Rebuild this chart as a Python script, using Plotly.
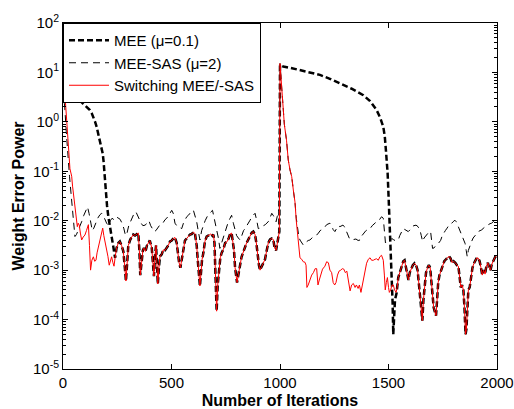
import plotly.graph_objects as go
import numpy as np

# ---------------- data (log10 of weight error power) ----------------
# MEE transient (0..240)
mee_pre_it = [0, 17, 40, 63, 85, 101, 115, 124, 132, 140, 148, 155, 163, 171, 178, 183, 187, 190, 194, 198, 203, 209, 217, 223, 227, 232]
mee_pre_lg = [0.60, 0.58, 0.53, 0.48, 0.40, 0.34, 0.28, 0.24, 0.18, 0.10, 0.0, -0.10, -0.24, -0.37, -0.52, -0.64, -0.80, -0.98, -1.20, -1.48, -1.70, -1.92, -2.12, -2.22, -2.35, -2.53]

# shared steady-state fluctuation, 240..997
steady_a_it = [240, 247, 255, 262, 270, 278, 285, 290, 295, 301, 310, 318, 324, 332, 340, 347, 352, 356, 362, 368,
               373, 380, 387, 393, 400, 409, 414, 419, 424, 429, 433, 437, 442, 447, 455, 462, 470, 478, 485, 493,
               501, 508, 516, 524, 530, 535, 541, 547, 554, 562, 570, 578, 585, 593, 601, 608, 616, 622, 627, 631,
               636, 641, 647, 654, 662, 668, 674, 681, 688, 693, 698, 703, 708, 713, 719, 725, 731, 739, 747, 757,
               764, 770, 777, 783, 788, 793, 797, 802, 808, 813, 818, 823, 831, 839, 846, 854, 862, 870, 877, 885,
               891, 897, 903, 908, 913, 920, 926, 931, 938, 946, 954, 962, 969, 975, 982, 988, 993, 997]
steady_a_lg = [-2.75, -2.55, -2.45, -2.42, -2.50, -2.62, -2.95, -3.22, -2.90, -2.50, -2.38, -2.32, -2.28, -2.30, -2.27, -2.25, -2.60, -3.10, -2.85, -2.60,
               -2.55, -2.62, -2.50, -2.46, -2.40, -2.55, -2.85, -3.12, -2.70, -2.50, -2.90, -3.28, -2.95, -2.72, -2.68, -2.59, -2.60, -2.55, -2.50, -2.42,
               -2.40, -2.36, -2.34, -2.45, -2.68, -2.85, -2.95, -2.80, -2.59, -2.40, -2.36, -2.32, -2.28, -2.27, -2.23, -2.26, -2.50, -2.85, -3.20, -3.32,
               -3.05, -2.78, -2.65, -2.42, -2.32, -2.30, -2.28, -2.27, -2.30, -2.28, -2.45, -3.10, -3.83, -3.30, -3.00, -2.75, -2.65, -2.58, -2.45, -2.42,
               -2.35, -2.27, -2.25, -2.40, -2.60, -2.95, -3.10, -3.25, -3.10, -2.92, -2.85, -2.73, -2.62, -2.50, -2.45, -2.38, -2.30, -2.24, -2.22, -2.28,
               -2.45, -2.75, -2.90, -3.00, -2.95, -2.90, -2.83, -2.78, -2.62, -2.45, -2.38, -2.36, -2.38, -2.55, -2.60, -2.45, -2.30, -2.22]

# MEE after the system change at 1000
mee_post_it = [1000, 1015, 1050, 1107, 1150, 1184, 1230, 1276, 1330, 1384, 1415, 1445, 1462, 1476, 1483, 1488, 1493, 1496, 1501, 1504, 1507, 1512, 1516, 1519, 1522, 1526, 1530, 1537]
mee_post_lg = [1.15, 1.12, 1.09, 1.03, 0.99, 0.95, 0.87, 0.78, 0.67, 0.54, 0.42, 0.24, 0.08, -0.10, -0.30, -0.57, -0.85, -1.04, -1.58, -1.90, -2.50, -3.00, -3.40, -3.67, -4.30, -3.90, -3.60, -3.47]

# shared steady-state fluctuation, 1545..2000
steady_b_it = [1545, 1552, 1561, 1568, 1574, 1580, 1586, 1592, 1598, 1605, 1612, 1620, 1627, 1634, 1640, 1646, 1651, 1656, 1661, 1667,
               1673, 1680, 1686, 1692, 1698, 1703, 1708, 1714, 1719, 1724, 1729, 1735, 1742, 1750, 1757, 1765, 1772, 1779, 1786, 1793,
               1800, 1808, 1815, 1822, 1828, 1833, 1839, 1845, 1850, 1855, 1859, 1863, 1868, 1874, 1880, 1887, 1894, 1900, 1907, 1914,
               1920, 1926, 1932, 1938, 1945, 1951, 1958, 1964, 1970, 1976, 1983, 1991, 2000]
steady_b_lg = [-3.15, -3.05, -2.93, -2.82, -2.80, -2.95, -3.12, -3.20, -3.05, -2.95, -2.90, -2.86, -2.90, -3.00, -3.25, -3.60, -3.85, -4.02, -3.60, -3.25,
               -3.05, -2.95, -2.90, -2.95, -3.20, -3.55, -3.75, -3.85, -3.92, -3.60, -3.25, -3.10, -3.00, -2.88, -2.82, -2.78, -2.74, -2.72, -2.76, -2.85,
               -2.82, -2.85, -2.90, -2.92, -3.15, -3.35, -3.30, -3.40, -3.75, -4.30, -4.20, -3.70, -3.40, -3.35, -3.15, -2.95, -2.86, -2.80, -2.75, -2.76,
               -2.82, -2.95, -3.10, -3.00, -3.08, -2.92, -2.85, -2.95, -3.00, -2.88, -2.80, -2.74, -2.70]

# Switching MEE/-SAS: own transient segments
sw_pre_it = [0, 5, 9, 13, 17, 21, 25, 29, 32, 36, 40, 44, 48, 52, 56, 60, 66, 70, 75, 80, 86, 93, 101, 108, 117, 122, 127, 133,
             140, 146, 152, 157, 163, 170, 177, 183, 188, 194, 201, 207, 213, 219, 224, 230, 235]
sw_pre_lg = [0.62, 0.60, 0.55, 0.25, -0.10, -0.30, -0.50, -0.75, -0.95, -1.05, -1.10, -1.30, -1.45, -1.60, -1.70, -1.85, -2.12, -2.05, -2.09, -2.25, -2.39, -2.33, -2.29, -2.20, -2.08, -2.50, -3.00, -2.80,
             -2.73, -2.82, -2.80, -2.65, -2.53, -2.40, -2.28, -2.15, -2.30, -2.42, -2.60, -2.72, -2.90, -2.78, -2.73, -2.85, -2.92]
sw_post_it = [1000, 1006, 1013, 1020, 1030, 1038, 1046, 1054, 1062, 1069, 1075, 1080, 1086, 1092, 1100, 1107, 1115, 1120, 1124, 1130,
              1138, 1146, 1154, 1162, 1169, 1175, 1181, 1188, 1196, 1207, 1215, 1223, 1230, 1238, 1245, 1252, 1258, 1265, 1272, 1280,
              1287, 1294, 1301, 1308, 1316, 1323, 1330, 1338, 1346, 1352, 1360, 1366, 1373, 1380, 1386, 1392, 1399, 1407, 1415, 1422,
              1430, 1438, 1445, 1453, 1460, 1468, 1476, 1481, 1485, 1490, 1495, 1500, 1504, 1510, 1516, 1522, 1528, 1535, 1540]
sw_post_lg = [1.18, 0.80, 0.30, -0.05, -0.37, -0.77, -0.97, -1.11, -1.40, -1.62, -2.00, -2.26, -2.60, -2.75, -2.78, -2.83, -2.84, -2.90, -3.35, -3.30,
              -3.20, -3.10, -3.05, -2.97, -2.97, -3.30, -3.20, -3.10, -2.98, -2.92, -2.83, -2.85, -3.00, -3.05, -3.25, -3.30, -3.25, -3.10, -3.02, -3.00,
              -2.97, -2.98, -3.05, -3.02, -3.20, -3.42, -3.30, -3.27, -3.35, -3.30, -3.37, -3.30, -3.45, -3.30, -3.15, -3.05, -2.86, -2.78, -2.75, -2.80,
              -2.80, -2.78, -2.77, -2.80, -2.73, -2.70, -2.80, -3.10, -3.40, -3.25, -3.15, -3.35, -3.45, -3.40, -3.30, -3.30, -3.40, -3.45, -3.35]

# MEE-SAS (mu = 2)
sas_it = [0, 8, 15, 22, 30, 38, 44, 50, 55, 62, 70, 78, 86, 95, 105, 113, 120, 128, 135, 142, 150, 160, 170, 178, 186, 193, 201, 210, 218, 226,
          235, 245, 255, 263, 272, 280, 288, 295, 303, 312, 320, 328, 336, 344, 352, 360, 368, 378, 388, 396, 404, 412, 420, 428, 436, 444, 452, 460,
          470, 478, 486, 494, 501, 508, 516, 524, 532, 540, 547, 555, 563, 570, 578, 586, 594, 601, 608, 616, 623, 631, 639, 647, 655, 664, 674, 682,
          689, 697, 703, 708, 716, 723, 731, 739, 747, 755, 762, 770, 777, 785, 793, 800, 808, 816, 824, 832, 839, 848, 856, 862, 870, 878, 885, 893,
          900, 908, 916, 924, 932, 940, 946, 954, 962, 970, 976, 982, 987, 992, 997,
          1000, 1006, 1013, 1020, 1030, 1038, 1046, 1054, 1062, 1069, 1075, 1080, 1086, 1092, 1100, 1107, 1115, 1123, 1130, 1138, 1146, 1154, 1162,
          1169, 1177, 1185, 1193, 1200, 1208, 1215, 1222, 1230, 1238, 1245, 1253, 1260, 1268, 1276, 1284, 1290, 1297, 1305, 1312, 1320, 1330, 1340,
          1350, 1360, 1369, 1378, 1387, 1396, 1405, 1415, 1425, 1435, 1445, 1455, 1462, 1468, 1476, 1481, 1486, 1491, 1499, 1507, 1515, 1522, 1530,
          1538, 1545, 1552, 1560, 1568, 1576, 1584, 1591, 1600, 1608, 1617, 1627, 1636, 1645, 1651, 1657, 1664, 1672, 1680, 1688, 1694, 1698, 1703,
          1710, 1718, 1726, 1733, 1740, 1748, 1755, 1762, 1770, 1777, 1783, 1790, 1798, 1806, 1812, 1818, 1824, 1829, 1836, 1845, 1853, 1858, 1863,
          1868, 1875, 1883, 1890, 1898, 1906, 1914, 1922, 1929, 1937, 1945, 1952, 1960, 1968, 1975, 1983, 1991, 2000]
sas_lg = [0.62, 0.30, -0.20, -0.70, -1.10, -1.50, -1.80, -2.10, -2.32, -2.28, -2.20, -2.12, -2.02, -1.90, -1.80, -1.72, -1.85, -2.05, -2.20, -2.15, -2.05, -1.95, -1.88, -1.85, -1.90, -1.98, -2.05, -2.10, -2.00, -1.95,
          -1.98, -1.92, -1.95, -1.97, -2.05, -2.15, -2.30, -2.25, -2.10, -2.00, -1.90, -1.85, -1.82, -1.90, -2.00, -2.05, -2.10, -2.09, -2.05, -2.00, -2.10, -2.15, -2.22, -2.20, -2.15, -2.10, -2.08, -2.05,
          -1.98, -1.95, -1.90, -1.85, -1.79, -1.85, -2.05, -2.10, -2.12, -2.15, -2.16, -2.05, -1.98, -1.92, -1.89, -1.84, -1.80, -1.79, -1.90, -2.02, -2.20, -2.39, -2.20, -2.09, -2.00, -1.92, -1.85, -1.82,
          -1.79, -1.95, -2.10, -2.16, -2.35, -2.56, -2.45, -2.32, -2.20, -2.10, -2.02, -1.95, -1.89, -2.05, -2.22, -2.30, -2.35, -2.39, -2.30, -2.20, -2.16, -2.08, -2.02, -1.99, -1.92, -1.88, -1.85, -2.00,
          -2.16, -2.15, -2.12, -2.10, -2.08, -2.05, -2.02, -1.94, -1.85, -1.90, -1.98, -2.02, -1.92, -1.82, -1.75,
          1.18, 0.80, 0.30, -0.05, -0.37, -0.77, -0.97, -1.11, -1.40, -1.62, -1.95, -2.15, -2.30, -2.39, -2.45, -2.49, -2.45, -2.42, -2.40, -2.39, -2.35, -2.32, -2.30,
          -2.29, -2.25, -2.20, -2.18, -2.16, -2.12, -2.08, -2.06, -2.05, -2.10, -2.18, -2.22, -2.15, -2.10, -2.12, -2.10, -2.09, -2.12, -2.20, -2.30, -2.36, -2.39, -2.38,
          -2.37, -2.40, -2.39, -2.30, -2.25, -2.20, -2.18, -2.16, -2.10, -2.05, -2.02, -2.00, -1.95, -1.92, -1.95, -2.20, -2.45, -2.42, -2.39, -2.40, -2.36, -2.38, -2.40,
          -2.40, -2.39, -2.30, -2.22, -2.16, -2.18, -2.20, -2.22, -2.18, -2.12, -2.10, -2.09, -2.12, -2.19, -2.30, -2.42, -2.35, -2.30, -2.25, -2.22, -2.22, -2.40, -2.56,
          -2.55, -2.50, -2.48, -2.45, -2.40, -2.30, -2.24, -2.20, -2.15, -2.10, -2.09, -2.05, -2.02, -1.99, -2.02, -2.08, -2.15, -2.19, -2.30, -2.40, -2.46, -2.60, -2.73,
          -2.60, -2.50, -2.42, -2.35, -2.30, -2.26, -2.22, -2.20, -2.19, -2.15, -2.12, -2.10, -2.08, -2.06, -2.05, -2.02, -1.99, -1.96]

# tick labels
x_ticks = [0, 500, 1000, 1500, 2000]
y_exps = [-5, -4, -3, -2, -1, 0, 1, 2]
y_tickvals = [10.0 ** e for e in y_exps]
y_ticktext = ["10<sup>%d</sup>" % e for e in y_exps]

# ---------------- assemble series ----------------
mee_x = mee_pre_it + steady_a_it + mee_post_it + steady_b_it
mee_y = [10 ** v for v in mee_pre_lg + steady_a_lg + mee_post_lg + steady_b_lg]
sw_x = sw_pre_it + steady_a_it + sw_post_it + steady_b_it
sw_y = [10 ** v for v in sw_pre_lg + steady_a_lg + sw_post_lg + steady_b_lg]
sas_x = sas_it
sas_y = [10 ** v for v in sas_lg]

FONT = "Arial, Liberation Sans, sans-serif"

fig = go.Figure()
fig.add_trace(go.Scatter(x=mee_x, y=mee_y, mode="lines", name="MEE (μ=0.1)",
                         line=dict(color="black", width=2.5, dash="6px,3px")))
fig.add_trace(go.Scatter(x=sas_x, y=sas_y, mode="lines", name="MEE-SAS (μ=2)",
                         line=dict(color="black", width=1, dash="7px,5px")))
fig.add_trace(go.Scatter(x=sw_x, y=sw_y, mode="lines", name="Switching MEE/-SAS",
                         line=dict(color="red", width=1)))

fig.update_layout(
    width=514, height=409,
    margin=dict(l=63, r=17, t=23, b=40),
    paper_bgcolor="white", plot_bgcolor="white",
    font=dict(family=FONT, size=15, color="black"),
    showlegend=True,
    legend=dict(x=0, y=1, xanchor="left", yanchor="top",
                bordercolor="black", borderwidth=1, bgcolor="white",
                font=dict(family=FONT, size=15, color="black"),
                tracegroupgap=0, itemwidth=40),
    xaxis=dict(range=[0, 2000], tickvals=x_ticks, automargin=False,
               ticks="inside", ticklen=5, tickcolor="black", showline=True, linecolor="black",
               linewidth=1, mirror="ticks", showgrid=False, zeroline=False,
               tickfont=dict(family=FONT, size=15, color="black"),
               title=dict(text="<b>Number of Iterations</b>", font=dict(family=FONT, size=16, color="black"), standoff=4)),
    yaxis=dict(type="log", range=[-5, 2], tickvals=y_tickvals, ticktext=y_ticktext, automargin=False,
               ticks="inside", ticklen=5, tickcolor="black", showline=True, linecolor="black",
               linewidth=1, mirror="ticks", showgrid=False, zeroline=False,
               minor=dict(ticks="inside", ticklen=3, tickcolor="black", dtick="D1", showgrid=False),
               tickfont=dict(family=FONT, size=15, color="black"),
               title=dict(text="<b>Weight Error Power</b>", font=dict(family=FONT, size=16, color="black"), standoff=4)),
)

fig.write_html("out.html")
